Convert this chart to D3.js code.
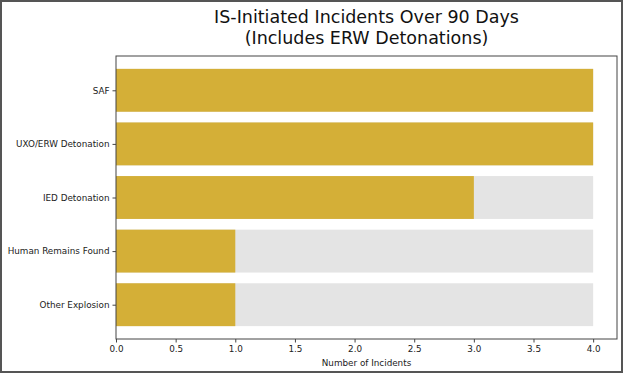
<!DOCTYPE html>
<html>
<head>
<meta charset="utf-8">
<script src="https://cdn.jsdelivr.net/npm/d3@7"></script>
<style>
  body { margin: 0; background: #fff; }
  svg { display: block; font-family: "DejaVu Sans", sans-serif; }
</style>
</head>
<body>
<svg id="chart" width="624" height="374"></svg>
<script>
var categories = ['SAF', 'UXO/ERW Detonation', 'IED Detonation', 'Human Remains Found', 'Other Explosion'];
var counts = [4, 4, 3, 1, 1];
var xTicks = [0, 0.5, 1, 1.5, 2, 2.5, 3, 3.5, 4];
var titleLines = ['IS-Initiated Incidents Over 90 Days', '(Includes ERW Detonations)'];

var svg = d3.select('#chart');
var width = 624, height = 374;
var margin = {top: 56, right: 7, bottom: 35, left: 116};

// outer frame
svg.append('rect')
    .attr('x', 1).attr('y', 1)
    .attr('width', width - 3).attr('height', height - 3)
    .style('fill', 'none')
    .style('stroke', '#555')
    .style('stroke-width', 2);

var maxVal = d3.max(counts);
var x = d3.scaleLinear()
    .domain([0, maxVal * 1.05])
    .range([margin.left, width - margin.right]);

// matplotlib-like barh: bars at 0..n-1, height 0.8, 5% margins
var n = categories.length;
var lo = -0.4, hi = n - 1 + 0.4, pad = (hi - lo) * 0.05;
var y = d3.scaleLinear()
    .domain([lo - pad, hi + pad])
    .range([margin.top, height - margin.bottom]);

var g = svg.append('g');

// background bars up to max
g.selectAll('.bg')
    .data(categories)
    .enter().append('rect')
    .attr('class', 'bg')
    .attr('x', x(0))
    .attr('y', function (d, i) { return y(i - 0.4); })
    .attr('width', x(maxVal) - x(0))
    .attr('height', y(0.4) - y(-0.4))
    .style('fill', '#e4e4e4');

g.selectAll('.bar')
    .data(counts)
    .enter().append('rect')
    .attr('class', 'bar')
    .attr('x', x(0))
    .attr('y', function (d, i) { return y(i - 0.4); })
    .attr('width', function (d) { return x(d) - x(0); })
    .attr('height', y(0.4) - y(-0.4))
    .style('fill', '#d4af37');

// axes frame
svg.append('rect')
    .attr('x', x.range()[0]).attr('y', y.range()[0])
    .attr('width', x.range()[1] - x.range()[0])
    .attr('height', y.range()[1] - y.range()[0])
    .style('fill', 'none')
    .style('stroke', '#444')
    .style('stroke-width', 1);

var xAxis = svg.append('g')
    .attr('transform', 'translate(0,' + y.range()[1] + ')')
    .call(d3.axisBottom(x).tickValues(xTicks).tickFormat(d3.format('.1f')).tickSize(3.5).tickPadding(3));

var yAxis = svg.append('g')
    .attr('transform', 'translate(' + x.range()[0] + ',0)')
    .call(d3.axisLeft(y).tickValues(d3.range(n)).tickFormat(function (d) { return categories[d]; }).tickSize(3.5).tickPadding(3));

[xAxis, yAxis].forEach(function (a) {
    a.select('.domain').remove();
    a.selectAll('.tick line').style('stroke', '#444');
    a.selectAll('.tick text')
        .style('font-family', '"DejaVu Sans", sans-serif')
        .style('font-size', '8.8px')
        .style('fill', '#222');
});

svg.append('text')
    .attr('x', (x.range()[0] + x.range()[1]) / 2)
    .attr('y', 366)
    .attr('text-anchor', 'middle')
    .style('font-size', '8.8px')
    .style('fill', '#222')
    .text('Number of Incidents');

svg.selectAll('.title')
    .data(titleLines)
    .enter().append('text')
    .attr('class', 'title')
    .attr('x', (x.range()[0] + x.range()[1]) / 2)
    .attr('y', function (d, i) { return 23 + i * 21; })
    .attr('text-anchor', 'middle')
    .style('font-size', '17.5px')
    .style('fill', '#111')
    .text(function (d) { return d; });
</script>
</body>
</html>
